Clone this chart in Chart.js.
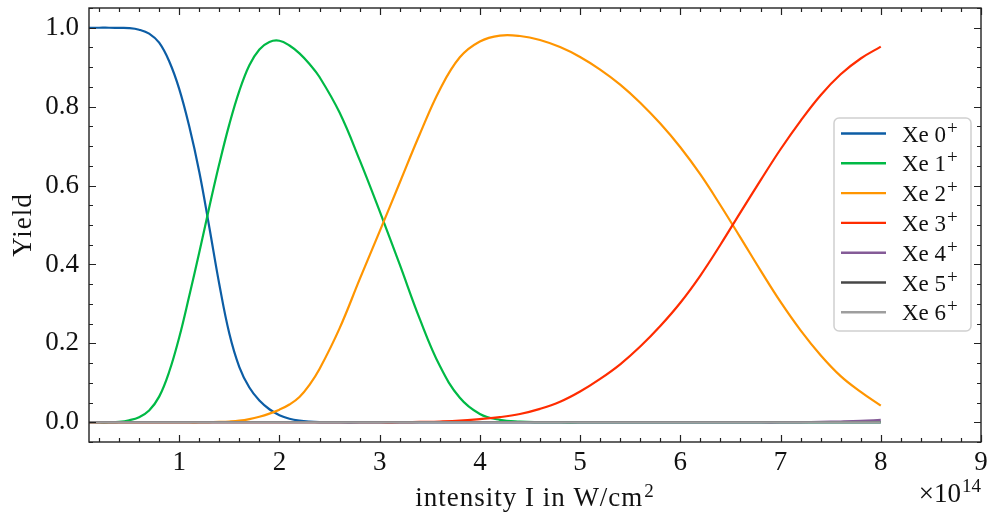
<!DOCTYPE html>
<html><head><meta charset="utf-8">
<script src="https://cdn.jsdelivr.net/npm/chart.js@4.4.1/dist/chart.umd.min.js"></script>
<style>html,body{margin:0;padding:0;background:#fff}#wrap{width:987px;height:515px}</style>
</head><body><div id="wrap"><canvas id="c" width="987" height="515"></canvas></div>
<script>
// ---- data (intensity in units of 1e14 W/cm^2) ----
const intensity = [0.1,0.2,0.3,0.4,0.5,0.6,0.7,0.8,0.9,1.0,1.1,1.2,1.3,1.4,1.5,1.6,1.7,1.8,1.9,2.0,2.1,2.2,2.3,2.4,
  2.6,2.8,3.0,3.2,3.4,3.6,3.8,4.0,4.2,4.4,4.6,4.8,5.0,5.2,5.4,5.6,5.8,6.0,6.2,6.4,6.6,6.8,7.0,7.2,7.4,7.6,7.8,8.0];
const xe0 = [1,1,1,0.9995,0.999,0.995,0.985,0.962,0.915,0.845,0.75,0.635,0.495,0.35,0.225,0.14,0.088,0.055,0.033,0.018,0.009,0.004,0.0015,0.0005,
  0,0,0,0,0,0,0,0,0,0,0,0,0,0,0,0,0,0,0,0,0,0,0,0,0,0,0,0];
const xe1 = [0,0,0,0.001,0.005,0.013,0.03,0.065,0.128,0.215,0.32,0.43,0.545,0.655,0.755,0.84,0.905,0.945,0.964,0.967,0.955,0.935,0.908,0.875,
  0.785,0.665,0.535,0.40,0.262,0.143,0.062,0.021,0.006,0.0015,0.0003,0,0,0,0,0,0,0,0,0,0,0,0,0,0,0,0,0];
const xe2 = [0,0,0,0,0,0,0,0,0,0,0,0,0.0005,0.001,0.002,0.004,0.008,0.014,0.022,0.032,0.045,0.064,0.095,0.135,
  0.238,0.362,0.484,0.607,0.73,0.843,0.925,0.965,0.98,0.979,0.969,0.951,0.926,0.894,0.856,0.81,0.757,0.697,0.628,0.55,0.468,0.385,0.305,0.233,0.17,0.117,0.077,0.042];
const xe3 = [0,0,0,0,0,0,0,0,0,0,0,0,0,0,0,0,0,0,0,0,0,0,0,0,
  0,0,0,0,0.001,0.002,0.004,0.008,0.013,0.021,0.034,0.052,0.078,0.11,0.147,0.192,0.244,0.303,0.372,0.45,0.532,0.613,0.692,0.764,0.829,0.882,0.922,0.952];
const xe4 = [0,0,0,0,0,0,0,0,0,0,0,0,0,0,0,0,0,0,0,0,0,0,0,0,
  0,0,0,0,0,0,0,0,0,0,0,0,0,0,0,0,0,0,0,0,0,0,0,0.0005,0.001,0.002,0.0035,0.006];
const xe5 = [0,0,0,0,0,0,0,0,0,0,0,0,0,0,0,0,0,0,0,0,0,0,0,0,
  0,0,0,0,0,0,0,0,0,0,0,0,0,0,0,0,0,0,0,0,0,0,0,0,0,0,0,0];
const xe6 = [0,0,0,0,0,0,0,0,0,0,0,0,0,0,0,0,0,0,0,0,0,0,0,0,
  0,0,0,0,0,0,0,0,0,0,0,0,0,0,0,0,0,0,0,0,0,0,0,0,0,0,0,0];
const seriesBase = ['Xe 0','Xe 1','Xe 2','Xe 3','Xe 4','Xe 5','Xe 6'];
const seriesSup = '+';
const xTickValues = [1,2,3,4,5,6,7,8,9];
const yTickValues = [0,0.2,0.4,0.6,0.8,1.0];
const xAxisTitle = ['intensity I in W/cm', '2'];
const yAxisTitle = 'Yield';
const xMultiplier = ['×10', '14'];

const colors = ['#0C5DA5','#00B945','#FF9500','#FF2C00','#845B97','#474747','#9e9e9e'];
const allSeries = [xe0,xe1,xe2,xe3,xe4,xe5,xe6];
const FONT = "'Liberation Serif', 'DejaVu Serif', serif";

const datasets = allSeries.map((arr,i)=>({
  label: seriesBase[i] + '⁺',
  data: intensity.map((x,k)=>({x:x, y:arr[k]})),
  borderColor: colors[i],
  backgroundColor: colors[i],
  borderWidth: 2.2,
  pointRadius: 0,
  fill: false,
  tension: 0.4,
  order: allSeries.length - i
}));

function textWithSup(ctx, base, sup, x, y, size, supSize, rise, align){
  ctx.font = size + "px " + FONT;
  const w1 = ctx.measureText(base).width;
  ctx.font = supSize + "px " + FONT;
  const w2 = ctx.measureText(sup).width;
  let x0 = x;
  if (align === 'center') x0 = x - (w1 + w2 + 1)/2;
  else if (align === 'right') x0 = x - (w1 + w2 + 1);
  ctx.textAlign = 'left';
  ctx.font = size + "px " + FONT;
  ctx.fillText(base, x0, y);
  ctx.font = supSize + "px " + FONT;
  ctx.fillText(sup, x0 + w1 + 1, y - rise);
}

const framePlugin = {
  id: 'frame',
  afterDatasetsDraw(chart){
    const {ctx, chartArea:a, scales:{x,y}} = chart;
    ctx.save();
    ctx.strokeStyle = '#222';
    ctx.lineWidth = 1.4;
    ctx.strokeRect(a.left, a.top, a.right-a.left, a.bottom-a.top);
    ctx.lineWidth = 1.2;
    const MAJ = 7, MIN = 4;
    ctx.beginPath();
    for (let k=1;k<=45;k++){
      const v = Math.round(k*2)/10;
      if (v < x.min || v > x.max) continue;
      const isMaj = Math.abs(v-Math.round(v))<1e-9;
      const len = isMaj?MAJ:MIN;
      const px = Math.round(x.getPixelForValue(v))+0.5;
      ctx.moveTo(px,a.bottom); ctx.lineTo(px,a.bottom-len);
      ctx.moveTo(px,a.top); ctx.lineTo(px,a.top+len);
    }
    for (let k=-1;k<=21;k++){
      const v = k*0.05;
      if (v < y.min-1e-9 || v > y.max+1e-9) continue;
      const isMaj = (k%4)===0;
      const len = isMaj?MAJ:MIN;
      const py = Math.round(y.getPixelForValue(v))+0.5;
      ctx.moveTo(a.left,py); ctx.lineTo(a.left+len,py);
      ctx.moveTo(a.right,py); ctx.lineTo(a.right-len,py);
    }
    ctx.stroke();
    ctx.restore();
  },
  afterDraw(chart){
    const {ctx, chartArea:a} = chart;
    ctx.save();
    // legend
    const bx = a.right - 147, by = a.top + 110, bw = 137, bh = 213;
    ctx.beginPath();
    ctx.roundRect(bx, by, bw, bh, 5);
    ctx.fillStyle = 'rgba(255,255,255,0.85)';
    ctx.fill();
    ctx.strokeStyle = '#d0d0d0';
    ctx.lineWidth = 1.5;
    ctx.stroke();
    ctx.textBaseline = 'alphabetic';
    for (let i=0;i<seriesBase.length;i++){
      const ry = by + 15.5 + i*29.8;
      ctx.strokeStyle = colors[i];
      ctx.lineWidth = 2.4;
      ctx.beginPath(); ctx.moveTo(bx+7, ry); ctx.lineTo(bx+52, ry); ctx.stroke();
      ctx.fillStyle = '#111';
      textWithSup(ctx, seriesBase[i], seriesSup, bx+68, ry+8, 23, 19, 8, 'left');
    }
    // axis titles
    ctx.fillStyle = '#111';
    ctx.letterSpacing = '1px';
    textWithSup(ctx, xAxisTitle[0], xAxisTitle[1], (a.left+a.right)/2, 506, 27, 19, 9, 'center');
    ctx.save();
    ctx.font = "27px " + FONT;
    ctx.translate(31, (a.top+a.bottom)/2);
    ctx.rotate(-Math.PI/2);
    ctx.textAlign = 'center';
    ctx.fillText(yAxisTitle, 0, 0);
    ctx.restore();
    ctx.letterSpacing = '0px';
    textWithSup(ctx, xMultiplier[0], xMultiplier[1], a.right, 502, 27, 19, 10, 'right');
    ctx.restore();
  }
};

const noPad = s => { s.paddingTop = 0; s.paddingBottom = 0; s.paddingLeft = 0; s.paddingRight = 0; };

new Chart(document.getElementById('c'), {
  type: 'line',
  data: { datasets },
  options: {
    responsive: false,
    devicePixelRatio: 1,
    animation: false,
    layout: { autoPadding: false, padding: { top: 8, right: 6, left: 0, bottom: 0 } },
    plugins: { legend: { display: false }, tooltip: { enabled: false } },
    scales: {
      x: {
        type: 'linear', min: 0.1, max: 9,
        grid: { display: false, drawTicks: false },
        border: { display: false },
        afterBuildTicks: s => { s.ticks = xTickValues.map(v=>({value:v})); },
        afterFit: s => { s.height = 73; noPad(s); },
        ticks: { color: '#111', font: { family: FONT, size: 27 }, padding: 5, maxRotation: 0, autoSkip: false,
                 callback: v => String(v) }
      },
      y: {
        type: 'linear', min: -0.05, max: 1.05,
        grid: { display: false, drawTicks: false },
        border: { display: false },
        afterBuildTicks: s => { s.ticks = yTickValues.map(v=>({value:v})); },
        afterFit: s => { s.width = 89; noPad(s); },
        ticks: { color: '#111', font: { family: FONT, size: 27 }, padding: 10, autoSkip: false,
                 callback: v => Number(v).toFixed(1) }
      }
    }
  },
  plugins: [framePlugin]
});
</script></body></html>
